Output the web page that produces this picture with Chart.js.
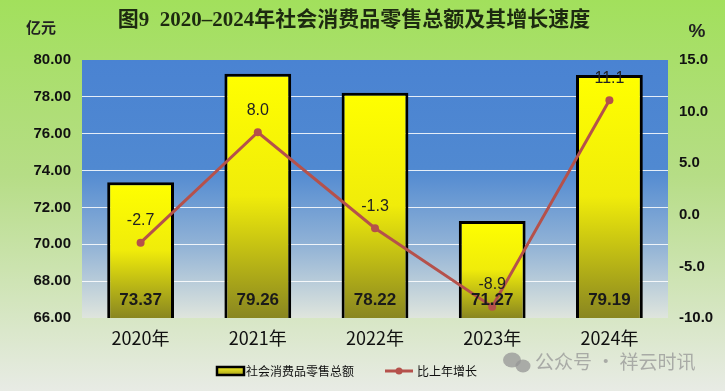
<!DOCTYPE html>
<html>
<head>
<meta charset="utf-8">
<script src="https://cdn.jsdelivr.net/npm/chart.js@4.4.0/dist/chart.umd.min.js"></script>
<style>
  html, body { margin: 0; padding: 0; background: #fff; }
  #wrap { width: 725px; height: 391px; }
</style>
</head>
<body>
<div id="wrap"><canvas id="retailChart" width="725" height="391"></canvas></div>
<script>
// data
const years = ['2020年', '2021年', '2022年', '2023年', '2024年'];
const retailTotal = [73.37, 79.26, 78.22, 71.27, 79.19];   // 亿元
const growthRate = [-2.7, 8.0, -1.3, -8.9, 11.1];          // %

const titleText = '图9  2020–2024年社会消费品零售总额及其增长速度';
const barLegend = '社会消费品零售总额';
const lineLegend = '比上年增长';
const lineColor = '#b5514b';

// backgrounds + title + units + legend + watermark
const decor = {
    id: 'decor',
    beforeDraw(chart) {
        const ctx = chart.ctx, a = chart.chartArea;
        ctx.save();
        let g = ctx.createLinearGradient(0, 0, 0, chart.height);
        g.addColorStop(0, '#a2e05c');
        g.addColorStop(0.45, '#b6dd86');
        g.addColorStop(1, '#e8ebe5');
        ctx.fillStyle = g;
        ctx.fillRect(0, 0, chart.width, chart.height);

        g = ctx.createLinearGradient(0, a.top, 0, a.bottom);
        g.addColorStop(0, '#4a83d2');
        g.addColorStop(0.42, '#5089d1');
        g.addColorStop(0.72, '#92b3d6');
        g.addColorStop(1, '#dfe5dd');
        ctx.fillStyle = g;
        ctx.fillRect(a.left, a.top, a.right - a.left, a.bottom - a.top);
        ctx.restore();
    },
    afterDraw(chart) {
        const ctx = chart.ctx;
        ctx.save();
        ctx.textBaseline = 'middle';
        ctx.fillStyle = '#1d2a10';
        ctx.font = 'bold 21px "Liberation Serif", "Noto Sans CJK SC", serif';
        ctx.textAlign = 'center';
        ctx.fillText(titleText, 354, 21);

        ctx.font = 'bold 15px "Noto Sans CJK SC", sans-serif';
        ctx.fillStyle = '#222';
        ctx.fillText('亿元', 41, 27);
        ctx.font = 'bold 19px "Liberation Sans", sans-serif';
        ctx.fillText('%', 697, 32);

        // legend
        const ly = 371;
        let lg = ctx.createLinearGradient(0, ly - 4, 0, ly + 4);
        lg.addColorStop(0, '#f4f020');
        lg.addColorStop(1, '#a9a41c');
        ctx.fillStyle = lg;
        ctx.fillRect(217, ly - 4, 27, 8);
        ctx.lineWidth = 2.5;
        ctx.strokeStyle = '#000';
        ctx.strokeRect(217, ly - 4, 27, 8);
        ctx.fillStyle = '#111';
        ctx.font = '12px "Noto Sans CJK SC", sans-serif';
        ctx.textAlign = 'left';
        ctx.fillText(barLegend, 246, ly);

        ctx.strokeStyle = lineColor;
        ctx.lineWidth = 3;
        ctx.beginPath();
        ctx.moveTo(385, ly);
        ctx.lineTo(413, ly);
        ctx.stroke();
        ctx.fillStyle = lineColor;
        ctx.beginPath();
        ctx.arc(399, ly, 3.5, 0, Math.PI * 2);
        ctx.fill();
        ctx.fillStyle = '#111';
        ctx.fillText(lineLegend, 417, ly);

        // watermark
        ctx.fillStyle = 'rgba(150,150,150,0.75)';
        ctx.beginPath();
        ctx.ellipse(512, 360, 9, 7.5, 0, 0, Math.PI * 2);
        ctx.fill();
        ctx.beginPath();
        ctx.ellipse(523, 366, 7.5, 6.5, 0, 0, Math.PI * 2);
        ctx.fill();
        ctx.font = '19px "Noto Sans CJK SC", sans-serif';
        ctx.fillText('公众号 · 祥云时讯', 535, 362);
        ctx.restore();
    }
};

// value labels
const valueLabels = {
    id: 'valueLabels',
    afterDatasetsDraw(chart) {
        const ctx = chart.ctx;
        ctx.save();
        ctx.textAlign = 'center';
        ctx.textBaseline = 'middle';
        const lineMeta = chart.getDatasetMeta(0);
        ctx.font = '16px "Liberation Sans", sans-serif';
        ctx.fillStyle = '#222';
        lineMeta.data.forEach((el, i) => {
            ctx.fillText(growthRate[i].toFixed(1), el.x, el.y - 22);
        });
        const barMeta = chart.getDatasetMeta(1);
        ctx.font = 'bold 17px "Liberation Sans", sans-serif';
        ctx.fillStyle = '#1a1a1a';
        barMeta.data.forEach((el, i) => {
            ctx.fillText(retailTotal[i].toFixed(2), el.x, chart.chartArea.bottom - 18);
        });
        ctx.restore();
    }
};

const barFill = (c) => {
    const chart = c.chart, a = chart.chartArea;
    if (!a || c.type !== 'data') return '#ffff00';
    const top = chart.scales.y.getPixelForValue(c.raw);
    const g = chart.ctx.createLinearGradient(0, top, 0, a.bottom);
    g.addColorStop(0, '#ffff00');
    g.addColorStop(0.5, '#f0ec0a');
    g.addColorStop(1, '#898620');
    return g;
};

const config = {
    type: 'bar',
    data: {
        labels: years,
        datasets: [{
            type: 'line',
            label: lineLegend,
            data: growthRate,
            yAxisID: 'y2',
            borderColor: lineColor,
            backgroundColor: lineColor,
            borderWidth: 3,
            pointRadius: 4,
            pointBackgroundColor: lineColor,
            pointBorderWidth: 0,
            tension: 0,
            order: 0
        }, {
            type: 'bar',
            label: barLegend,
            data: retailTotal,
            yAxisID: 'y',
            backgroundColor: barFill,
            borderColor: '#000',
            borderWidth: 3,
            barPercentage: 0.57,
            categoryPercentage: 1,
            order: 1
        }]
    },
    options: {
        responsive: false,
        animation: false,
        devicePixelRatio: 1,
        layout: { padding: { top: 60, bottom: 43, left: 0, right: 0 } },
        plugins: {
            legend: { display: false },
            tooltip: { enabled: false }
        },
        scales: {
            x: {
                grid: { display: false, drawTicks: false },
                border: { display: false },
                ticks: {
                    padding: 9,
                    color: '#111',
                    font: { size: 18, family: '"Noto Sans CJK SC", sans-serif' }
                },
                afterFit(s) { s.height = 30; }
            },
            y: {
                position: 'left',
                min: 66, max: 80,
                ticks: {
                    stepSize: 2,
                    padding: 11,
                    color: '#111',
                    font: { size: 15, weight: 'bold', family: '"Liberation Sans", sans-serif' },
                    callback: v => v.toFixed(2)
                },
                grid: {
                    drawTicks: false,
                    lineWidth: 1,
                    color: c => (c.tick.value === 66 || c.tick.value === 80) ? 'rgba(0,0,0,0)' : 'rgba(255,255,255,0.85)'
                },
                border: { display: false },
                afterFit(s) { s.width = 82; }
            },
            y2: {
                position: 'right',
                min: -10, max: 15,
                ticks: {
                    stepSize: 5,
                    padding: 11,
                    color: '#111',
                    font: { size: 15, weight: 'bold', family: '"Liberation Sans", sans-serif' },
                    callback: v => v.toFixed(1)
                },
                grid: { display: false, drawTicks: false },
                border: { display: false },
                afterFit(s) { s.width = 57; }
            }
        }
    },
    plugins: [decor, valueLabels]
};

const myChart = new Chart(document.getElementById('retailChart'), config);
</script>
</body>
</html>
